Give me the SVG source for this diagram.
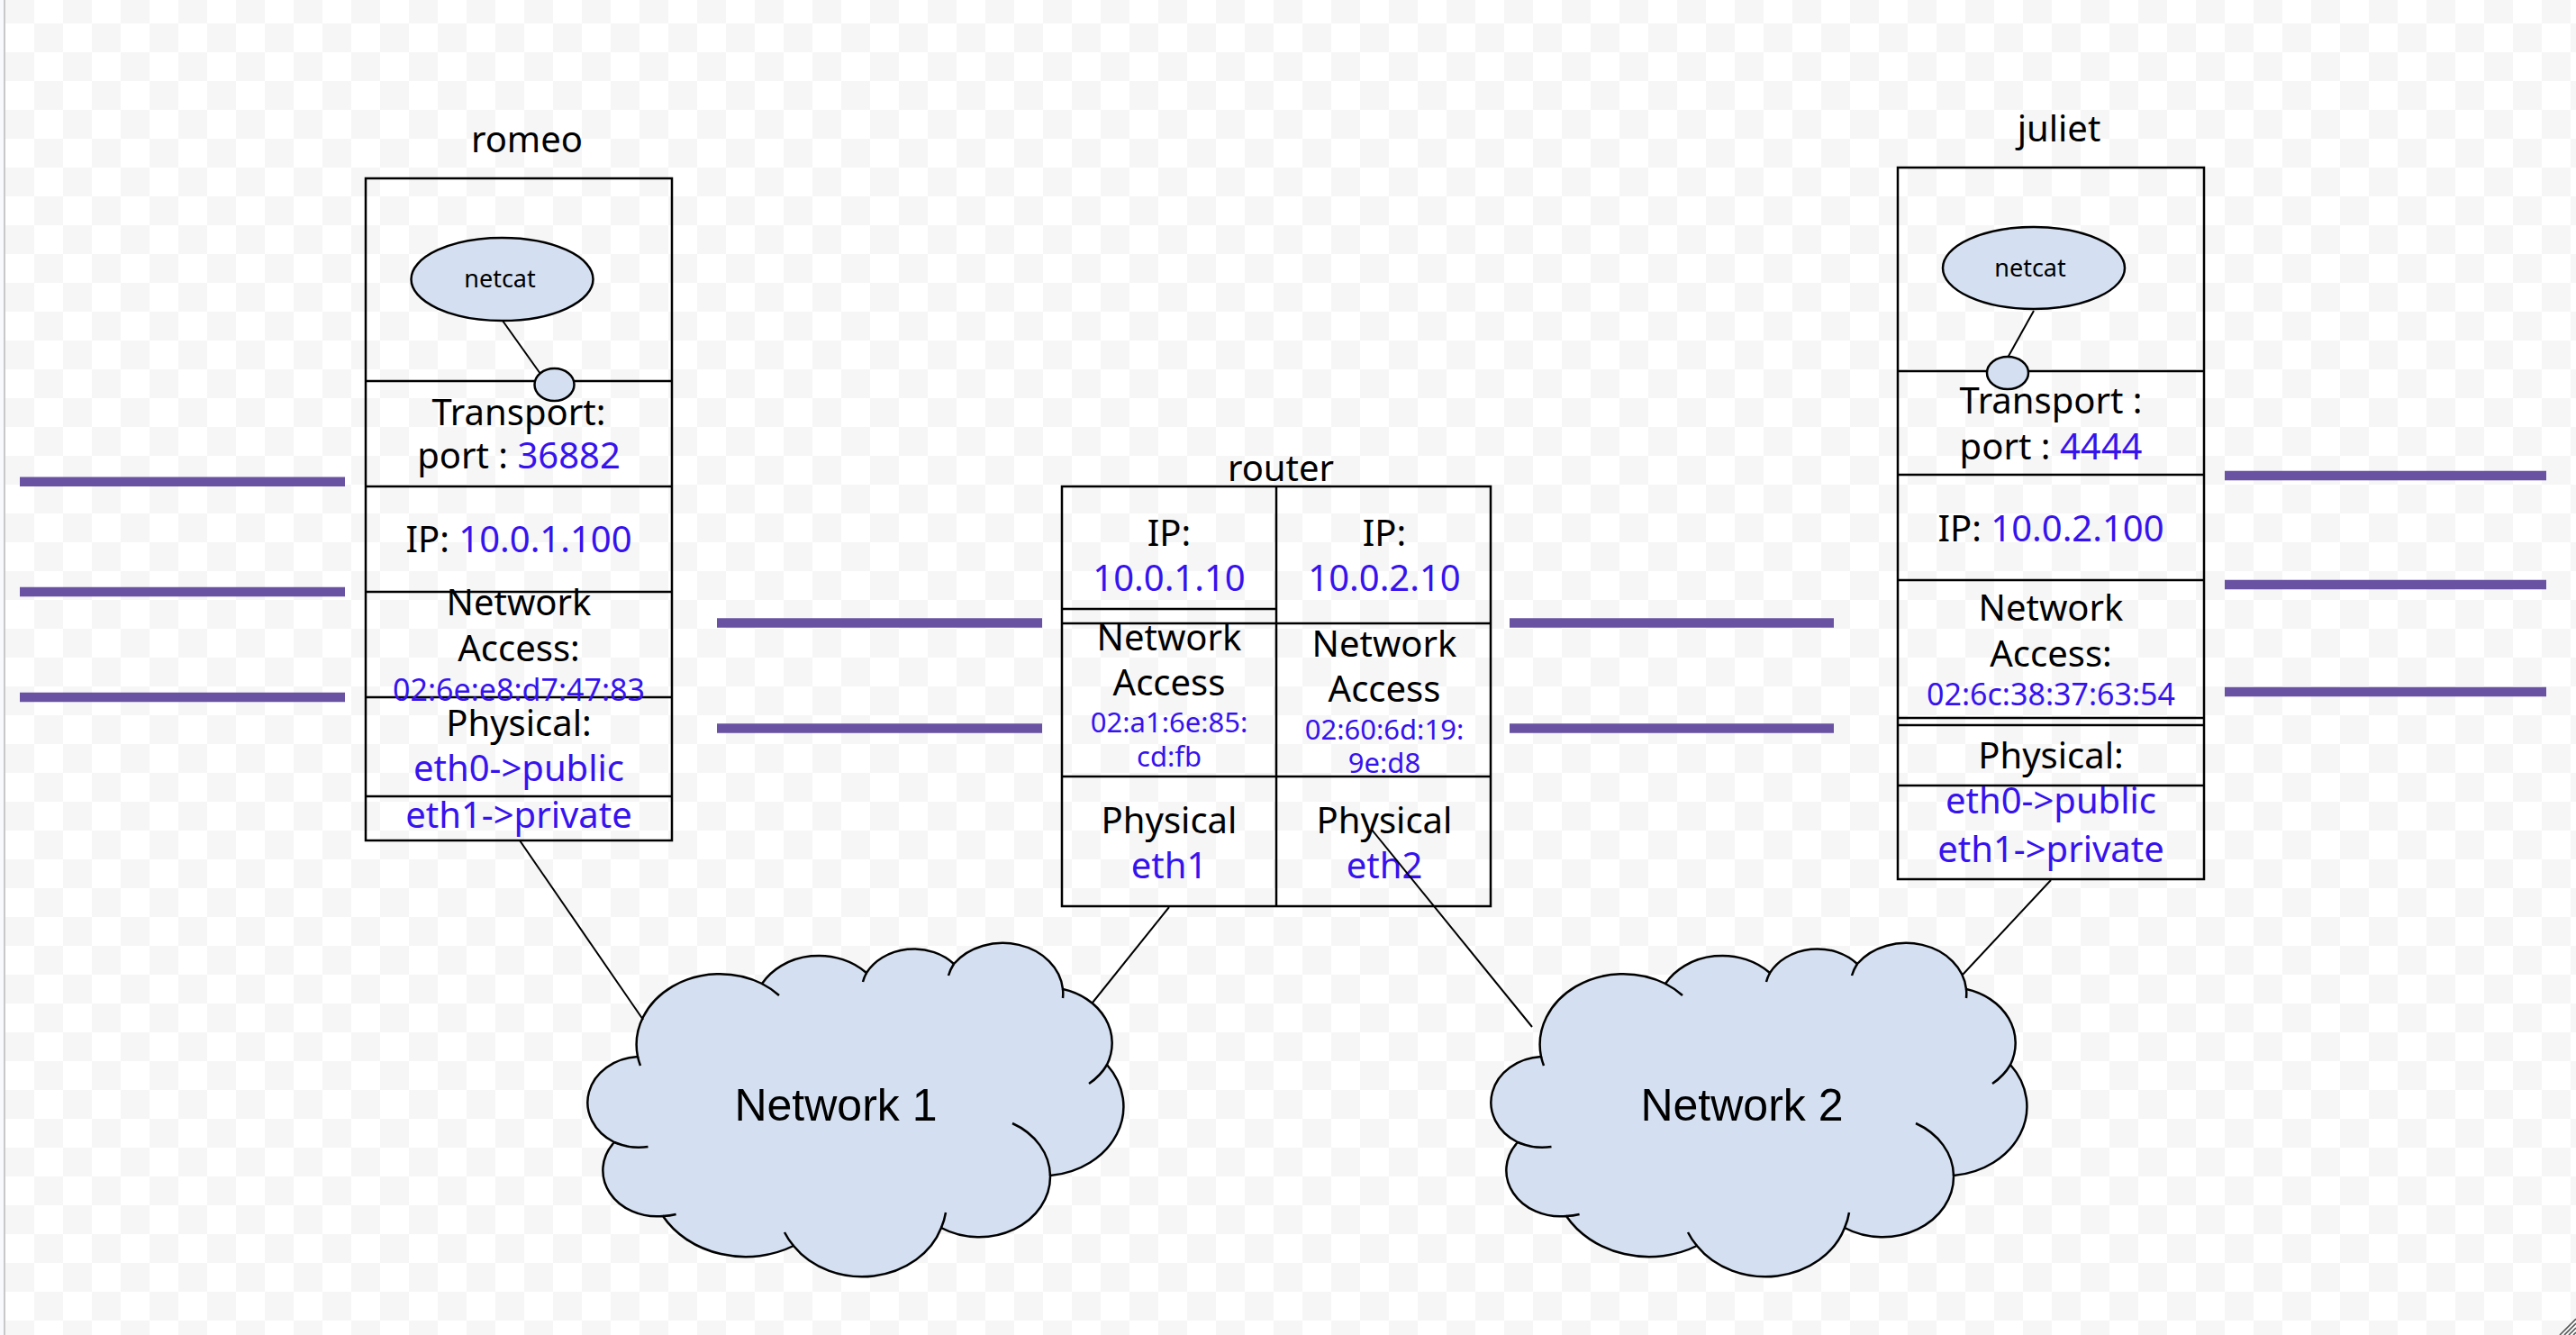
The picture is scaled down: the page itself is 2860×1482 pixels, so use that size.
<svg xmlns="http://www.w3.org/2000/svg" width="2860" height="1482" viewBox="0 0 2860 1482">
  <defs>
    <pattern id="checker" x="6" y="-6" width="64" height="64" patternUnits="userSpaceOnUse">
      <rect width="64" height="64" fill="#ffffff"/>
      <rect width="32" height="32" fill="#f6f6f6"/>
      <rect x="32" y="32" width="32" height="32" fill="#f6f6f6"/>
    </pattern>
    <!-- cloud outline in local coordinates (592 x 369) -->
    <path id="cloudShape" d="M53,123 A92.5,78.5 0 0 1 191,42 A73,62 0 0 1 307,30 A60,51 0 0 1 404,20 A67,56 0 0 1 525,48 A73,62 0 0 1 574,132 A91,77 0 0 1 511,255 A79,67 0 0 1 390,313 A92.5,79 0 0 1 226,333 A106,90 0 0 1 81,300 A60,51 0 0 1 27,218 A59.5,51 0 0 1 53,123 Z"/>
    <path id="cloudInner" d="M53,123 A92.5,78.5 0 0 0 56,133 M27,218 A59.5,51 0 0 0 64.5,223 M81,300 A60,51 0 0 0 95.6,298 M226,333 A92.5,79 0 0 1 216,318 M390,313 A92.5,79 0 0 0 395,296 M511,255 A79,67 0 0 0 469,197 M574,132 A73,62 0 0 1 554,153 M525,48 A67,56 0 0 1 525,58 M404,20 A67,56 0 0 0 398,33 M307,30 A60,51 0 0 0 303,40 M191,42 A92.5,78.5 0 0 1 210,55"/>
  </defs>
  <style>
    .box { fill: none; stroke: #000; stroke-width: 2.5; }
    .div { stroke: #000; stroke-width: 2.5; }
    .lbl { font-family: "Noto Sans", "Open Sans", sans-serif; font-size: 40px; text-anchor: middle; fill: #000; }
    .blue { fill: #3613ee; }
    .mac { font-size: 34px; }
    .rmac { font-size: 31px; }
    .small { font-size: 27px; }
    .proc { fill: #d4e0f1; stroke: #000; stroke-width: 2.5; }
    .wire { stroke: #6952a2; stroke-width: 10.5; }
    .conn { stroke: #000; stroke-width: 2; fill: none; }
    .cloud { fill: #d4e0f1; stroke: #000; stroke-width: 2.5; }
    .cloudInner { fill: none; stroke: #000; stroke-width: 2.5; }
    .ctext { font-family: "Liberation Sans", Arial, sans-serif; font-size: 50px; text-anchor: middle; fill: #000; }
  </style>

  <!-- canvas -->
  <rect width="2860" height="1482" fill="url(#checker)"/>
  <rect x="0" y="0" width="4" height="1482" fill="#f8f9fc"/>
  <rect x="4" y="0" width="2" height="1482" fill="#c8c8c8"/>
  <g stroke="#555" stroke-width="1.6">
    <line x1="2842" y1="1482" x2="2860" y2="1464"/>
    <line x1="2847" y1="1482" x2="2860" y2="1469"/>
    <line x1="2852" y1="1482" x2="2860" y2="1474"/>
    <line x1="2857" y1="1482" x2="2860" y2="1479"/>
  </g>

  <!-- network wires -->
  <g id="wires" class="wire">
    <line x1="22" y1="534.7" x2="383" y2="534.7"/>
    <line x1="22" y1="657" x2="383" y2="657"/>
    <line x1="22" y1="774" x2="383" y2="774"/>
    <line x1="796" y1="691.5" x2="1157" y2="691.5"/>
    <line x1="796" y1="808.5" x2="1157" y2="808.5"/>
    <line x1="1676" y1="691.5" x2="2036" y2="691.5"/>
    <line x1="1676" y1="808.5" x2="2036" y2="808.5"/>
    <line x1="2470" y1="528" x2="2827" y2="528"/>
    <line x1="2470" y1="649" x2="2827" y2="649"/>
    <line x1="2470" y1="768" x2="2827" y2="768"/>
  </g>

  <!-- host romeo -->
  <g id="romeo">
    <text class="lbl" x="585" y="169">romeo</text>
    <rect class="box" x="406" y="198" width="340" height="735"/>
    <line class="div" x1="406" y1="423" x2="746" y2="423"/>
    <line class="div" x1="406" y1="540" x2="746" y2="540"/>
    <line class="div" x1="406" y1="657" x2="746" y2="657"/>
    <line class="div" x1="406" y1="774" x2="746" y2="774"/>
    <line class="div" x1="406" y1="884" x2="746" y2="884"/>
    <line class="conn" x1="558" y1="356" x2="600" y2="415"/>
    <ellipse class="proc" cx="557.5" cy="310" rx="101" ry="46"/>
    <text class="lbl small" x="555" y="319">netcat</text>
    <ellipse class="proc" cx="615.5" cy="427" rx="22" ry="18"/>
    <text class="lbl" x="576" y="472">Transport:</text>
    <text class="lbl" x="576" y="520">port : <tspan class="blue">36882</tspan></text>
    <text class="lbl" x="576" y="613">IP: <tspan class="blue">10.0.1.100</tspan></text>
    <text class="lbl" x="576" y="683">Network</text>
    <text class="lbl" x="576" y="734">Access:</text>
    <text class="lbl mac blue" x="576" y="778">02:6e:e8:d7:47:83</text>
    <text class="lbl" x="576" y="817">Physical:</text>
    <text class="lbl blue" x="576" y="867">eth0-&gt;public</text>
    <text class="lbl blue" x="576" y="919">eth1-&gt;private</text>
  </g>

  <!-- router -->
  <g id="router">
    <text class="lbl" x="1422" y="534">router</text>
    <rect class="box" x="1179" y="540" width="476" height="466"/>
    <line class="div" x1="1417" y1="540" x2="1417" y2="1006"/>
    <line class="div" x1="1179" y1="676" x2="1417" y2="676"/>
    <line class="div" x1="1179" y1="692" x2="1655" y2="692"/>
    <line class="div" x1="1179" y1="862" x2="1655" y2="862"/>
    <text class="lbl" x="1298" y="606">IP:</text>
    <text class="lbl blue" x="1298" y="656">10.0.1.10</text>
    <text class="lbl" x="1537" y="606">IP:</text>
    <text class="lbl blue" x="1537" y="656">10.0.2.10</text>
    <text class="lbl" x="1298" y="722">Network</text>
    <text class="lbl" x="1298" y="772">Access</text>
    <text class="lbl rmac blue" x="1298" y="813">02:a1:6e:85:</text>
    <text class="lbl rmac blue" x="1298" y="851">cd:fb</text>
    <text class="lbl" x="1537" y="729">Network</text>
    <text class="lbl" x="1537" y="779">Access</text>
    <text class="lbl rmac blue" x="1537" y="821">02:60:6d:19:</text>
    <text class="lbl rmac blue" x="1537" y="858">9e:d8</text>
    <text class="lbl" x="1298" y="925">Physical</text>
    <text class="lbl blue" x="1298" y="975">eth1</text>
    <text class="lbl" x="1537" y="925">Physical</text>
    <text class="lbl blue" x="1537" y="975">eth2</text>
  </g>

  <!-- host juliet -->
  <g id="juliet">
    <text class="lbl" x="2286" y="157">juliet</text>
    <rect class="box" x="2107" y="186" width="340" height="790"/>
    <line class="div" x1="2107" y1="412" x2="2447" y2="412"/>
    <line class="div" x1="2107" y1="527" x2="2447" y2="527"/>
    <line class="div" x1="2107" y1="644" x2="2447" y2="644"/>
    <line class="div" x1="2107" y1="797" x2="2447" y2="797"/>
    <line class="div" x1="2107" y1="805" x2="2447" y2="805"/>
    <line class="div" x1="2107" y1="872" x2="2447" y2="872"/>
    <line class="conn" x1="2258" y1="345" x2="2229" y2="397"/>
    <ellipse class="proc" cx="2258" cy="297.5" rx="101" ry="45.5"/>
    <text class="lbl small" x="2254" y="307">netcat</text>
    <ellipse class="proc" cx="2229" cy="414" rx="23" ry="18"/>
    <text class="lbl" x="2277" y="459">Transport :</text>
    <text class="lbl" x="2277" y="510">port : <tspan class="blue">4444</tspan></text>
    <text class="lbl" x="2277" y="601">IP: <tspan class="blue">10.0.2.100</tspan></text>
    <text class="lbl" x="2277" y="689">Network</text>
    <text class="lbl" x="2277" y="740">Access:</text>
    <text class="lbl mac blue" x="2277" y="783">02:6c:38:37:63:54</text>
    <text class="lbl" x="2277" y="853">Physical:</text>
    <text class="lbl blue" x="2277" y="903">eth0-&gt;public</text>
    <text class="lbl blue" x="2277" y="957">eth1-&gt;private</text>
  </g>

  <!-- clouds -->
  <g id="network1" transform="translate(655,1050)">
    <use href="#cloudShape" class="cloud"/>
    <use href="#cloudInner" class="cloudInner"/>
    <text class="ctext" x="273" y="194">Network 1</text>
  </g>
  <g id="network2" transform="translate(1658,1050)">
    <use href="#cloudShape" class="cloud"/>
    <use href="#cloudInner" class="cloudInner"/>
    <text class="ctext" x="276" y="194">Network 2</text>
  </g>

  <!-- links between hosts, router and networks -->
  <g id="connectors" class="conn">
    <line x1="577" y1="933" x2="714" y2="1132"/>
    <line x1="1298" y1="1007" x2="1213" y2="1113"/>
    <line x1="1523" y1="921" x2="1701" y2="1140"/>
    <line x1="2277" y1="977" x2="2179" y2="1082"/>
  </g>
</svg>
